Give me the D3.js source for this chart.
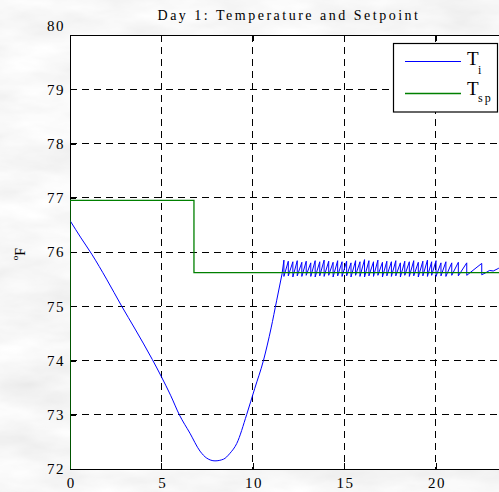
<!DOCTYPE html>
<html>
<head>
<meta charset="utf-8">
<script src="https://cdn.jsdelivr.net/npm/d3@7"></script>
<style>
  html, body { margin: 0; padding: 0; overflow: hidden; background: #ededed; }
  svg { display: block; }
  text { font-family: "Liberation Serif", "Times New Roman", serif; fill: #000; }
</style>
</head>
<body>
<div id="chart"></div>
<script>
// Day 1 data (hours, deg F)
const xTicks = [0, 5, 10, 15, 20]
const yTicks = [72, 73, 74, 75, 76, 77, 78, 79, 80]

// indoor temperature: the cool-down and warm-up
const tempTime = [0, 0.6, 1.19, 2.0, 2.83, 3.56, 4.5, 5.0, 5.5, 5.98, 6.56, 7.11, 7.48, 7.93, 8.39, 8.75, 9.12, 9.66, 10.1, 10.58, 11.0, 11.3, 11.6]
const tempVal = [76.58, 76.26, 75.96, 75.5, 75.0, 74.58, 74.02, 73.7, 73.36, 73.0, 72.66, 72.33, 72.2, 72.15, 72.18, 72.29, 72.47, 73.0, 73.48, 74.0, 74.6, 75.1, 75.6]

// thermostat cycling: peak reached at toothTime, then drops to toothLow
const toothTime = [11.70, 11.94, 12.19, 12.43, 12.68, 12.92, 13.17, 13.41, 13.66, 13.90,
  14.15, 14.39, 14.64, 14.88, 15.13, 15.37, 15.62, 15.86, 16.11, 16.35,
  16.60, 16.84, 17.09, 17.33, 17.58, 17.82, 18.07, 18.31, 18.56, 18.80,
  19.05, 19.30, 19.55, 19.78, 20.02, 20.29, 20.56, 20.88, 21.24, 21.70, 22.52]
const toothHigh = [75.85, 75.83, 75.82, 75.84, 75.81, 75.83, 75.80, 75.84, 75.82, 75.85,
  75.83, 75.81, 75.84, 75.82, 75.83, 75.80, 75.84, 75.82, 75.86, 75.84,
  75.82, 75.85, 75.81, 75.83, 75.82, 75.84, 75.80, 75.83, 75.82, 75.84,
  75.81, 75.83, 75.85, 75.82, 75.84, 75.80, 75.82, 75.80, 75.81, 75.80, 75.79]
const toothLow = [75.55, 75.56, 75.54, 75.56, 75.55, 75.57, 75.55, 75.54, 75.56, 75.55,
  75.57, 75.54, 75.56, 75.55, 75.56, 75.54, 75.57, 75.55, 75.54, 75.56,
  75.55, 75.57, 75.54, 75.56, 75.55, 75.56, 75.54, 75.57, 75.55, 75.56,
  75.54, 75.56, 75.55, 75.57, 75.55, 75.56, 75.55, 75.57, 75.56, 75.57, 75.58]

// slow drift at the end of the day
const tailTime = [22.75, 22.95, 23.15, 23.45, 23.7, 24.0]
const tailVal = [75.62, 75.66, 75.65, 75.70, 75.67, 75.68]

// setpoint
const spTime = [0, 0, 6.78, 6.78, 24]
const spVal = [72, 76.95, 76.95, 75.62, 75.62]

const width = 499
const height = 492
const plotLeft = 70
const plotTop = 35
const plotBottom = 469

const x = d3.scaleLinear().domain([0, 24]).range([plotLeft, 508.8])
const y = d3.scaleLinear().domain([72, 80]).range([plotBottom, plotTop])

// build the point lists
const mainPoints = tempTime.map((t, i) => [t, tempVal[i]])
const cyclePoints = [mainPoints[mainPoints.length - 1]]
toothTime.forEach((t, i) => {
  cyclePoints.push([t, toothHigh[i]])
  cyclePoints.push([t, toothLow[i]])
})
tailTime.forEach((t, i) => cyclePoints.push([t, tailVal[i]]))
const spPoints = spTime.map((t, i) => [t, spVal[i]])

const svg = d3.select("#chart")
  .append("svg")
  .attr("width", width)
  .attr("height", height)

const defs = svg.append("defs")

// marble-ish grey figure background
const marble = defs.append("filter")
  .attr("id", "marble")
  .attr("x", 0).attr("y", 0)
  .attr("width", "100%").attr("height", "100%")
marble.append("feTurbulence")
  .attr("type", "fractalNoise")
  .attr("baseFrequency", "0.012 0.035")
  .attr("numOctaves", 4)
  .attr("seed", 7)
marble.append("feColorMatrix")
  .attr("type", "matrix")
  .attr("values", "0.24 0 0 0 0.81  0.24 0 0 0 0.81  0.24 0 0 0 0.81  0 0 0 0 1")

defs.append("clipPath")
  .attr("id", "plot-clip")
  .append("rect")
  .attr("x", plotLeft).attr("y", plotTop)
  .attr("width", width - plotLeft + 20).attr("height", plotBottom - plotTop)

svg.append("rect")
  .attr("width", width).attr("height", height)
  .attr("filter", "url(#marble)")

// white axes area
svg.append("rect")
  .attr("x", plotLeft).attr("y", plotTop)
  .attr("width", width - plotLeft + 20).attr("height", plotBottom - plotTop)
  .attr("fill", "#fff")

// Grid
const grid = svg.append("g")
  .attr("stroke", "#000")
  .attr("stroke-width", 1)
  .attr("stroke-dasharray", "7,5")
  .attr("shape-rendering", "crispEdges")

grid.selectAll("line.gx")
  .data(xTicks.slice(1))
  .join("line")
  .attr("class", "gx")
  .attr("x1", d => x(d)).attr("x2", d => x(d))
  .attr("y1", plotTop).attr("y2", plotBottom)

grid.selectAll("line.gy")
  .data(yTicks.slice(1, -1))
  .join("line")
  .attr("class", "gy")
  .attr("x1", plotLeft).attr("x2", width)
  .attr("y1", d => y(d)).attr("y2", d => y(d))

// Axes
const axisFont = g => g
  .attr("font-family", '"Liberation Serif", "Times New Roman", serif')
  .attr("font-size", 15)
  .attr("letter-spacing", "1.5px")

const yAxis = svg.append("g")
  .attr("transform", `translate(${plotLeft},0)`)
  .call(d3.axisLeft(y).tickValues(yTicks).tickSizeInner(-6).tickSizeOuter(0).tickPadding(5))
  .call(axisFont)
yAxis.selectAll(".tick text").attr("dy", d => d === 80 ? "-0.3em" : "0.32em")

const xAxis = svg.append("g")
  .attr("transform", `translate(0,${plotBottom})`)
  .call(d3.axisBottom(x).tickValues(xTicks).tickSizeInner(-6).tickSizeOuter(0).tickPadding(8))
  .call(axisFont)
xAxis.selectAll(".tick text").attr("dx", "0.75px")

svg.append("g")
  .attr("transform", `translate(0,${plotTop})`)
  .call(d3.axisTop(x).tickValues(xTicks).tickSizeInner(-6).tickSizeOuter(0).tickFormat(""))

svg.selectAll(".domain, .tick line")
  .attr("stroke", "#000")
  .attr("shape-rendering", "crispEdges")

// Lines
const smoothLine = d3.line()
  .x(d => x(d[0]))
  .y(d => y(d[1]))
  .curve(d3.curveMonotoneX)

const line = d3.line()
  .x(d => x(d[0]))
  .y(d => y(d[1]))

const plot = svg.append("g").attr("clip-path", "url(#plot-clip)")

plot.append("path")
  .datum(mainPoints)
  .attr("fill", "none")
  .attr("stroke", "#0000ff")
  .attr("stroke-width", 1)
  .attr("d", smoothLine)

plot.append("path")
  .datum(cyclePoints)
  .attr("fill", "none")
  .attr("stroke", "#0000ff")
  .attr("stroke-width", 1)
  .attr("d", line)

plot.append("path")
  .datum(spPoints)
  .attr("fill", "none")
  .attr("stroke", "#008000")
  .attr("stroke-width", 1.3)
  .attr("d", line)

// Title
svg.append("text")
  .attr("x", 289)
  .attr("y", 20)
  .attr("text-anchor", "middle")
  .attr("font-size", 14)
  .attr("letter-spacing", "2.5px")
  .text("Day 1: Temperature and Setpoint")

// y label: degrees F
const ylab = svg.append("text")
  .attr("transform", "translate(25,254) rotate(-90)")
  .attr("text-anchor", "middle")
ylab.append("tspan")
  .attr("font-size", 9)
  .attr("dy", -7)
  .text("o")
ylab.append("tspan")
  .attr("font-size", 14)
  .attr("dy", 7)
  .text("F")

// Legend
const legend = svg.append("g")
legend.append("rect")
  .attr("x", 393.5).attr("y", 43.5)
  .attr("width", 104).attr("height", 68.5)
  .attr("fill", "#fff")
  .attr("stroke", "#000")
  .attr("stroke-width", 1.2)

const legendItems = [
  { color: "#0000ff", width: 1, y: 61.5, base: 65, sub: "i", subBase: 74 },
  { color: "#008000", width: 1.3, y: 93.5, base: 95, sub: "sp", subBase: 102 }
]

legendItems.forEach(d => {
  legend.append("line")
    .attr("x1", 405).attr("x2", 461)
    .attr("y1", d.y).attr("y2", d.y)
    .attr("stroke", d.color)
    .attr("stroke-width", d.width)
  legend.append("text")
    .attr("x", 467).attr("y", d.base)
    .attr("font-size", 19)
    .text("T")
  legend.append("text")
    .attr("x", 478).attr("y", d.subBase)
    .attr("font-size", 12)
    .attr("letter-spacing", "2px")
    .text(d.sub)
})
</script>
</body>
</html>
